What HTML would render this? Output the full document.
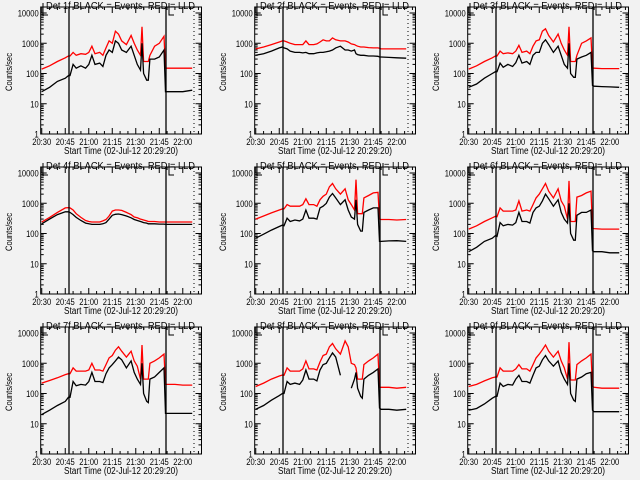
<!DOCTYPE html>
<html><head><meta charset="utf-8">
<style>
html,body{margin:0;padding:0;background:#f2f2f2;}
svg{display:block;font-family:"Liberation Sans",sans-serif;}
</style></head>
<body>
<svg id="chart" width="640" height="480" viewBox="0 0 640 480" xmlns="http://www.w3.org/2000/svg">
<rect x="0" y="0" width="640" height="480" fill="#f2f2f2"/>
</svg>
<script>
// time samples: minutes after 20:30
const times = [0,5,10,15,17,18,20,22,25,28,30,32,34,37,39,41,43,45,47,49,51,54,57,59,61,63,64,65,67,68,69,72,75,78,79,80,85,90,96];
const detNames = ["1f","2f","3f","4f","5f","6f","7f","8f","9f"];
const xTickLabels = ["20:30","20:45","21:00","21:15","21:30","21:45","22:00"];
const yTickLabels = ["1","10","100","1000","10000"];
const black1 = [25,35,55,70,85,85,200,150,180,150,200,400,200,220,170,400,600,500,1200,1000,600,500,800,400,200,130,1000,100,60,60,300,300,350,600,25,25,25,25,28];
const red1 = [140,180,250,330,380,380,500,400,450,430,500,800,450,500,400,700,1200,1000,2500,2000,1200,900,1800,1000,600,400,3500,250,250,250,400,800,1000,1700,150,150,150,150,150];
const black2 = [400,450,550,700,750,700,650,550,500,500,480,500,450,450,480,500,500,520,550,600,700,800,600,600,550,600,450,420,400,400,400,380,380,370,350,350,340,330,320];
const red2 = [650,750,900,1100,1200,1200,1100,1000,900,900,900,1200,900,900,950,1100,1300,1200,1200,1500,1300,1200,1200,1100,950,900,850,800,750,750,750,720,700,700,680,650,650,650,650];
const black3 = [35,45,70,100,115,115,220,160,200,170,230,400,220,250,200,400,500,500,1000,1300,900,500,800,400,200,150,1000,100,75,75,300,350,400,500,40,38,37,36,35];
const red3 = [140,180,250,330,380,380,550,450,480,450,550,850,500,550,450,800,1200,1300,2500,3000,1800,1100,2000,1000,600,400,3500,250,250,250,400,1000,1200,1500,150,150,145,145,145];
const black4 = [210,300,420,520,520,500,420,340,270,220,210,200,200,200,210,230,300,400,430,440,420,380,330,290,270,250,240,230,220,210,210,210,205,205,200,200,200,200,200];
const red4 = [240,340,500,700,720,700,600,450,340,270,250,240,240,240,260,290,380,550,600,600,580,500,420,350,330,300,290,280,260,250,250,250,240,240,240,240,240,240,240];
const black5 = [70,95,130,170,190,180,320,250,280,260,300,600,320,320,300,700,800,1000,1600,2100,1500,900,1300,600,350,300,1300,200,120,120,500,600,700,700,55,55,57,58,55];
const red5 = [300,380,480,600,650,650,900,800,800,800,900,1400,900,900,800,1300,1700,2000,3500,4500,3000,2000,3000,1300,900,600,6000,450,450,450,1500,1800,2200,2300,300,290,290,280,290];
const black6 = [25,35,55,70,85,80,230,180,200,190,230,500,250,250,220,500,700,800,1200,2000,1400,800,1300,500,300,220,1000,100,60,60,400,500,500,600,27,25,25,23,23];
const red6 = [140,180,250,330,370,360,700,550,550,550,600,1200,550,600,550,900,1500,2000,3000,4500,2500,1500,3000,1200,800,300,5500,250,250,250,1600,1800,2200,2500,150,145,140,140,140];
const black7 = [20,28,40,55,75,75,250,180,200,190,250,500,250,250,230,450,700,900,1200,1600,1300,700,1200,500,300,200,1000,100,55,50,300,350,500,700,22,22,22,22,22];
const red7 = [220,270,330,420,450,450,700,550,550,550,600,1000,600,600,550,900,1500,1800,2700,3500,2500,1600,2500,1200,800,300,4000,300,300,300,1000,1200,1500,2000,200,200,200,190,190];
const black8 = [30,40,60,85,100,100,250,200,220,200,280,600,300,300,260,600,900,1000,1500,2200,1600,400,null,null,150,300,500,150,80,70,300,400,500,650,33,30,30,28,30];
const red8 = [170,220,300,380,410,400,700,550,550,550,650,1200,650,650,600,1100,1800,2000,3500,4500,3000,2000,5500,3500,1000,900,700,300,300,300,900,1200,1500,2000,160,160,160,150,160];
const black9 = [28,32,45,70,80,80,220,170,200,190,300,400,250,250,220,400,700,800,1300,1800,1200,800,1200,500,300,200,1000,100,60,55,300,350,450,500,28,25,25,25,25];
const red9 = [170,200,260,330,350,350,700,550,550,550,650,900,650,650,550,900,1500,2000,2800,4000,2500,1600,2500,1200,700,300,5000,280,280,280,900,1200,1500,2000,170,160,150,150,150];
const blackSeries = [black1,black2,black3,black4,black5,black6,black7,black8,black9];
const redSeries = [red1,red2,red3,red4,red5,red6,red7,red8,red9];

const NS = "http://www.w3.org/2000/svg";
const svg = document.getElementById("chart");
function mk(tag, attrs, parent){
  const e = document.createElementNS(NS, tag);
  for (const k in attrs) e.setAttribute(k, attrs[k]);
  (parent||svg).appendChild(e);
  return e;
}
const colOff = [0,214,427], rowOff = [0,160,320];
const PX_PER_MIN = 1.567, DEC = 30.25;

for (let p = 0; p < 9; p++) {
  const ox = colOff[p % 3], oy = rowOff[Math.floor(p / 3)];
  const x0 = ox + 40.7, x1 = ox + 201.5, yT = oy + 7, yB = oy + 134;
  const xs = m => x0 + (m + 0.667) * PX_PER_MIN;
  const ys = v => yB - Math.log10(v) * DEC;
  const g = mk("g", {});
  
  

  const t = mk("text", {x: ox + 46, y: oy + 9, "font-size": "10", textLength: "149", lengthAdjust: "spacingAndGlyphs", fill: "#000"}, g);
  t.textContent = "Det " + detNames[p] + " BLACK = Events, RED = LLD";
  
  

  for (let d = 0; d <= 4; d++) {
    const y = ys(Math.pow(10, d));
    mk("line", {x1: x0, x2: x0 + 6, y1: y, y2: y, stroke: "#000"}, g);
    mk("line", {x1: x1, x2: x1 - 6, y1: y, y2: y, stroke: "#000"}, g);
    const lab = yTickLabels[d];
    const lt = mk("text", {x: x0 - 2 - lab.length * 4.2, y: y + 3.5, "font-size": "9", textLength: String(lab.length * 4.2), lengthAdjust: "spacingAndGlyphs", fill: "#000"}, g);
    lt.textContent = lab;
    
    
    if (d < 4) for (let k = 2; k <= 9; k++) {
      const ym = ys(k * Math.pow(10, d));
      mk("line", {x1: x0, x2: x0 + 3, y1: ym, y2: ym, stroke: "#000"}, g);
      mk("line", {x1: x1, x2: x1 - 3, y1: ym, y2: ym, stroke: "#000"}, g);
    }
  }
  for (let i = 0; i < xTickLabels.length; i++) {
    const x = xs(i * 15);
    mk("line", {x1: x, x2: x, y1: yB, y2: yB - 6, stroke: "#000"}, g);
    mk("line", {x1: x, x2: x, y1: yT, y2: yT + 6, stroke: "#000"}, g);
    const lt = mk("text", {x: x - 9.5, y: oy + 145, "font-size": "9", textLength: "19", lengthAdjust: "spacingAndGlyphs", fill: "#000"}, g);
    lt.textContent = xTickLabels[i];
    
    
  }
  for (let m = 5; m <= 100; m += 5) {
    if (m % 15 === 0) continue;
    const x = xs(m);
    if (x > x1) break;
    mk("line", {x1: x, x2: x, y1: yB, y2: yB - 3, stroke: "#000"}, g);
    mk("line", {x1: x, x2: x, y1: yT, y2: yT + 3, stroke: "#000"}, g);
  }
  const xt = mk("text", {x: ox + 64, y: oy + 154, "font-size": "10", textLength: "114", lengthAdjust: "spacingAndGlyphs", fill: "#000"}, g);
  xt.textContent = "Start Time (02-Jul-12 20:29:20)";
  
  
  const yt = mk("text", {x: -19, y: 0, "font-size": "9", textLength: "38", lengthAdjust: "spacingAndGlyphs", fill: "#000", transform: "translate(" + (ox + 12) + "," + (oy + 72) + ") rotate(-90)"}, g);
  yt.textContent = "Counts/sec";
  
  

  function series(arr, color, name) {
    let d = "", pen = false;
    for (let i = 0; i < times.length; i++) {
      if (arr[i] == null) { pen = false; continue; }
      d += (pen ? "L" : "M") + xs(times[i]).toFixed(1) + " " + ys(arr[i]).toFixed(1) + " ";
      pen = true;
    }
    const pth = mk("path", {d: d, fill: "none", stroke: color, "stroke-width": "1.3", "stroke-linejoin": "miter"}, g);
    
    
  }
  series(redSeries[p], "#ff0000", "lld-series");
  series(blackSeries[p], "#000000", "events-series");

  mk("line", {x1: ox + 69, x2: ox + 69, y1: yT, y2: yB, stroke: "#000", "stroke-width": "1.3"}, g);
  mk("line", {x1: ox + 166, x2: ox + 166, y1: yT, y2: yB, stroke: "#000", "stroke-width": "1.3"}, g);
  mk("line", {x1: ox + 194, x2: ox + 194, y1: yT, y2: yB, stroke: "#000", "stroke-dasharray": "1 3"}, g);
  mk("path", {d: "M" + (ox + 43) + " " + (oy + 3) + " V" + (oy + 15) + " H" + (ox + 48), fill: "none", stroke: "#000"}, g);
  mk("path", {d: "M" + (ox + 169) + " " + (oy + 3) + " V" + (oy + 15) + " H" + (ox + 174), fill: "none", stroke: "#000"}, g);

  const fr = mk("rect", {x: x0, y: yT, width: x1 - x0, height: yB - yT, fill: "none", stroke: "#000", "stroke-width": "1"}, g);
  
  
}
</script>
</body></html>
